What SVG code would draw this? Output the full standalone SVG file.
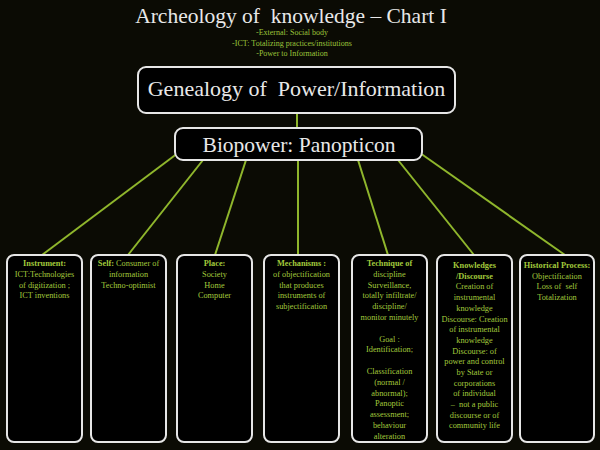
<svg xmlns="http://www.w3.org/2000/svg" width="600" height="450" viewBox="0 0 600 450">
<style>
.bg{fill:#0b0b04}
.box{fill:#000;stroke:#e6e6e6;stroke-width:2}
.conn line{stroke:#8fb62c;stroke-width:2}
.title{font-family:"Liberation Serif",serif;fill:#e8e8e8;text-anchor:middle;white-space:pre}
.sub{font-family:"Liberation Serif",serif;fill:#9cc43a;text-anchor:middle;font-size:8px}
.lbl{font-family:"Liberation Serif",serif;fill:#a2c93c;text-anchor:middle;font-size:8.3px;white-space:pre}
.b{font-weight:bold}
</style>
<rect class="bg" x="0" y="0" width="600" height="450"/>
<g id="title">
<text class="title" x="291" y="23" font-size="21.5">Archeology of  knowledge – Chart I</text>
<text class="sub" x="292" y="35">-External: Social body</text>
<text class="sub" x="292" y="45.5">-ICT: Totalizing practices/institutions</text>
<text class="sub" x="292" y="56">-Power to Information</text>
</g>
<g class="conn" id="connectors">
<line x1="297" y1="113" x2="297" y2="128"/>
<line x1="178" y1="153" x2="42" y2="255"/>
<line x1="203" y1="160" x2="128" y2="255"/>
<line x1="246" y1="160" x2="215" y2="255"/>
<line x1="298" y1="160" x2="298" y2="255"/>
<line x1="358" y1="160" x2="388" y2="255"/>
<line x1="398" y1="160" x2="474" y2="255"/>
<line x1="420" y1="153" x2="565" y2="255"/>
</g>
<g id="genealogy">
<rect class="box" x="138" y="67" width="317" height="46" rx="8"/>
<text class="title" x="296.5" y="96" font-size="22">Genealogy of  Power/Information</text>
</g>
<g id="biopower">
<rect class="box" x="175" y="128" width="247" height="32" rx="8"/>
<text class="title" x="299" y="152" font-size="21.5">Biopower: Panopticon</text>
</g>
<g id="instrument">
<rect class="box" x="7" y="255" width="75" height="187" rx="7"/>
<text class="lbl" x="44.5" y="266"><tspan class="b">Instrument:</tspan><tspan x="44.5" dy="10.8">ICT:Technologies</tspan><tspan x="44.5" dy="10.8">of digitization ;</tspan><tspan x="44.5" dy="10.8">ICT inventions</tspan></text>
</g>
<g id="self">
<rect class="box" x="91" y="255" width="75" height="187" rx="7"/>
<text class="lbl" x="128.5" y="266"><tspan class="b">Self:</tspan> Consumer of<tspan x="128.5" dy="10.8">information</tspan><tspan x="128.5" dy="10.8">Techno-optimist</tspan></text>
</g>
<g id="place">
<rect class="box" x="177" y="255" width="75" height="187" rx="7"/>
<text class="lbl" x="214.5" y="266"><tspan class="b">Place:</tspan><tspan x="214.5" dy="10.8">Society</tspan><tspan x="214.5" dy="10.8">Home</tspan><tspan x="214.5" dy="10.8">Computer</tspan></text>
</g>
<g id="mechanisms">
<rect class="box" x="264" y="255" width="75" height="187" rx="7"/>
<text class="lbl" x="301.5" y="266"><tspan class="b">Mechanisms :</tspan><tspan x="301.5" dy="10.8">of objectification</tspan><tspan x="301.5" dy="10.8">that produces</tspan><tspan x="301.5" dy="10.8">instruments of</tspan><tspan x="301.5" dy="10.8">subjectification</tspan></text>
</g>
<g id="technique">
<rect class="box" x="352" y="255" width="75" height="187" rx="7"/>
<text class="lbl" x="389.5" y="266"><tspan class="b">Technique of</tspan><tspan x="389.5" dy="10.8">discipline</tspan><tspan x="389.5" dy="10.8">Surveillance,</tspan><tspan x="389.5" dy="10.8">totally infiltrate/</tspan><tspan x="389.5" dy="10.8">discipline/</tspan><tspan x="389.5" dy="10.8">monitor minutely</tspan><tspan x="389.5" dy="21.6">Goal :</tspan><tspan x="389.5" dy="10.8">Identification;</tspan><tspan x="389.5" dy="21.6">Classification</tspan><tspan x="389.5" dy="10.8">(normal /</tspan><tspan x="389.5" dy="10.8">abnormal);</tspan><tspan x="389.5" dy="10.8">Panoptic</tspan><tspan x="389.5" dy="10.8">assessment;</tspan><tspan x="389.5" dy="10.8">behaviour</tspan><tspan x="389.5" dy="10.8">alteration</tspan></text>
</g>
<g id="knowledges">
<rect class="box" x="437" y="255" width="75" height="187" rx="7"/>
<text class="lbl" x="474.5" y="268"><tspan class="b">Knowledges</tspan><tspan class="b" x="474.5" dy="10.7">/Discourse</tspan><tspan x="474.5" dy="10.7">Creation of</tspan><tspan x="474.5" dy="10.7">instrumental</tspan><tspan x="474.5" dy="10.7">knowledge</tspan><tspan x="474.5" dy="10.7">Discourse: Creation</tspan><tspan x="474.5" dy="10.7">of instrumental</tspan><tspan x="474.5" dy="10.7">knowledge</tspan><tspan x="474.5" dy="10.7">Discourse: of</tspan><tspan x="474.5" dy="10.7">power and control</tspan><tspan x="474.5" dy="10.7">by State or</tspan><tspan x="474.5" dy="10.7">corporations</tspan><tspan x="474.5" dy="10.7">of individual</tspan><tspan x="474.5" dy="10.7">–  not a public</tspan><tspan x="474.5" dy="10.7">discourse or of</tspan><tspan x="474.5" dy="10.7">community life</tspan></text>
</g>
<g id="historical">
<rect class="box" x="520" y="255" width="74" height="187" rx="7"/>
<text class="lbl" x="557" y="268"><tspan class="b">Historical Process:</tspan><tspan x="557" dy="10.7">Objectification</tspan><tspan x="557" dy="10.7">Loss of  self</tspan><tspan x="557" dy="10.7">Totalization</tspan></text>
</g>
</svg>
